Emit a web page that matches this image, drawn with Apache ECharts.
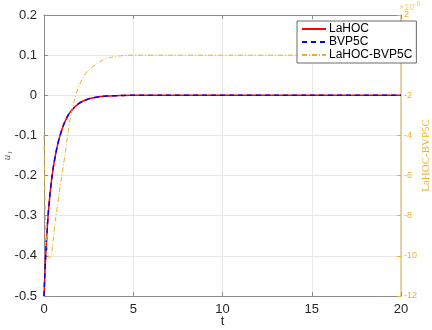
<!DOCTYPE html>
<html>
<head>
<meta charset="utf-8">
<script src="https://cdn.jsdelivr.net/npm/echarts@6/dist/echarts.min.js"></script>
<style>html,body{margin:0;padding:0;background:#fff;}#chart{width:432px;height:330px;}</style>
</head>
<body>
<div id="chart"></div>
<script>
// time samples for the two solutions
var tU = [0,0.1,0.2,0.3,0.4,0.5,0.6,0.8,1.0,1.2,1.5,2.0,2.5,3.0,3.5,4.0,5,6,8,10,12,14,16,18,20];
var lahoc = [-0.5,-0.394,-0.318,-0.263,-0.220,-0.186,-0.159,-0.116,-0.086,-0.063,-0.040,-0.019,-0.009,-0.0042,-0.002,-0.001,0,0,0,0,0,0,0,0,0];
var bvp5c = [-0.5,-0.394,-0.318,-0.263,-0.220,-0.186,-0.159,-0.116,-0.086,-0.063,-0.040,-0.019,-0.009,-0.0042,-0.002,-0.001,0,0,0,0,0,0,0,0,0];
// difference (units of 1e-6)
var tD = [0,0.05,0.1,0.2,0.3,0.4,0.5,0.6,0.8,1.0,1.2,1.4,1.6,1.8,2.0,2.4,3.0,3.5,4.0,4.5,5,6,8,10,12,14,16,18,20];
var diff = [-4.0,-7.0,-8.6,-9.7,-10.1,-10.0,-9.3,-8.5,-7.2,-6.0,-4.8,-3.5,-2.6,-1.95,-1.45,-0.85,-0.4,-0.18,-0.07,-0.02,0,0,0,0,0,0,0,0,0];
var leftTicks = {min:-0.5, max:0.2, interval:0.1};
var rightTicks = {min:-12, max:2, interval:2};

function pairs(xs, ys){ var r=[]; for(var i=0;i<xs.length;i++) r.push([xs[i],ys[i]]); return r; }

var gold = '#EDB120', axisGray = '#8c8c8c', txt = '#262626';
var chart = echarts.init(document.getElementById('chart'));
chart.setOption({
  animation:false,
  backgroundColor:'#fff',
  grid:{left:44,right:31,top:15,bottom:34,containLabel:false,outerBoundsMode:'none'},
  legend:{
    orient:'vertical', left:297, top:21, padding:[2,4,2,4], itemGap:1,
    itemWidth:24, itemHeight:12, borderColor:'#444', borderWidth:0.8, backgroundColor:'#fff',
    itemStyle:{opacity:0},
    textStyle:{fontSize:12, color:'#000', fontFamily:'Liberation Sans', padding:[0,0,0,-2]},
    data:['LaHOC','BVP5C','LaHOC-BVP5C']
  },
  xAxis:[{
    type:'value', min:0, max:20, interval:5, name:'t', nameLocation:'middle', nameGap:19, nameMoveOverlap:false,
    nameTextStyle:{fontSize:13, color:txt, fontFamily:'Liberation Sans'},
    axisLine:{onZero:false, lineStyle:{color:axisGray, width:1}},
    axisTick:{inside:true, length:4, lineStyle:{color:axisGray}},
    axisLabel:{fontSize:13, color:txt, margin:7, fontFamily:'Liberation Sans'},
    splitLine:{lineStyle:{color:'#e8e8e8'}}
  },{
    type:'value', min:0, max:20, interval:5, position:'top',
    axisLine:{onZero:false, lineStyle:{color:axisGray, width:1}},
    axisTick:{inside:true, length:4, lineStyle:{color:axisGray}},
    axisLabel:{show:false}, splitLine:{show:false}
  }],
  yAxis:[{
    type:'value', min:leftTicks.min, max:leftTicks.max, interval:leftTicks.interval,
    name:'u\u2081', nameLocation:'middle', nameGap:31, nameRotate:90, nameMoveOverlap:false,
    nameTextStyle:{fontSize:11, color:'#555', fontFamily:'Liberation Serif', fontStyle:'italic'},
    axisLine:{show:true, onZero:false, lineStyle:{color:axisGray, width:1}},
    axisTick:{show:true, inside:true, length:4, lineStyle:{color:axisGray}},
    axisLabel:{fontSize:13, color:txt, margin:7, fontFamily:'Liberation Sans',
      formatter:function(v){ return (Math.round(v*10)/10).toString(); }},
    splitLine:{lineStyle:{color:'#e8e8e8'}}
  },{
    type:'value', min:rightTicks.min, max:rightTicks.max, interval:rightTicks.interval, position:'right',
    name:'LaHOC-BVP5C', nameLocation:'middle', nameGap:20, nameRotate:90, nameMoveOverlap:false,
    nameTextStyle:{fontSize:11, color:gold, fontFamily:'Liberation Serif'},
    axisLine:{show:true, onZero:false, lineStyle:{color:'#dcc58e', width:1.5}},
    axisTick:{show:true, inside:true, length:4, lineStyle:{color:gold}},
    axisLabel:{fontSize:9, color:gold, margin:3, fontFamily:'Liberation Sans'},
    splitLine:{show:false}
  }],
  graphic:[{
    type:'text', left:399, top:1,
    style:{text:'{a|\u00d710}{b|-6}', rich:{a:{fontSize:9, fill:'#f2cd78', fontFamily:'Liberation Sans'}, b:{fontSize:7, fill:'#f2cd78', verticalAlign:'top', padding:[0,0,6,0]}}}
  }],
  series:[{
    name:'LaHOC', type:'line', symbol:'none', smooth:0.4, data:pairs(tU, lahoc),
    lineStyle:{color:'#ff0000', width:1.5}, itemStyle:{color:'#ff0000'}
  },{
    name:'BVP5C', type:'line', symbol:'none', smooth:0.4, data:pairs(tU, bvp5c),
    lineStyle:{color:'#0000ff', width:1.5, type:[5,4]}, itemStyle:{color:'#0000ff'}
  },{
    name:'LaHOC-BVP5C', type:'line', yAxisIndex:1, symbol:'none', smooth:0.4, data:pairs(tD, diff),
    lineStyle:{color:gold, width:1, type:[5,2,1,2]}, itemStyle:{color:gold}
  }]
});
</script>
</body>
</html>
